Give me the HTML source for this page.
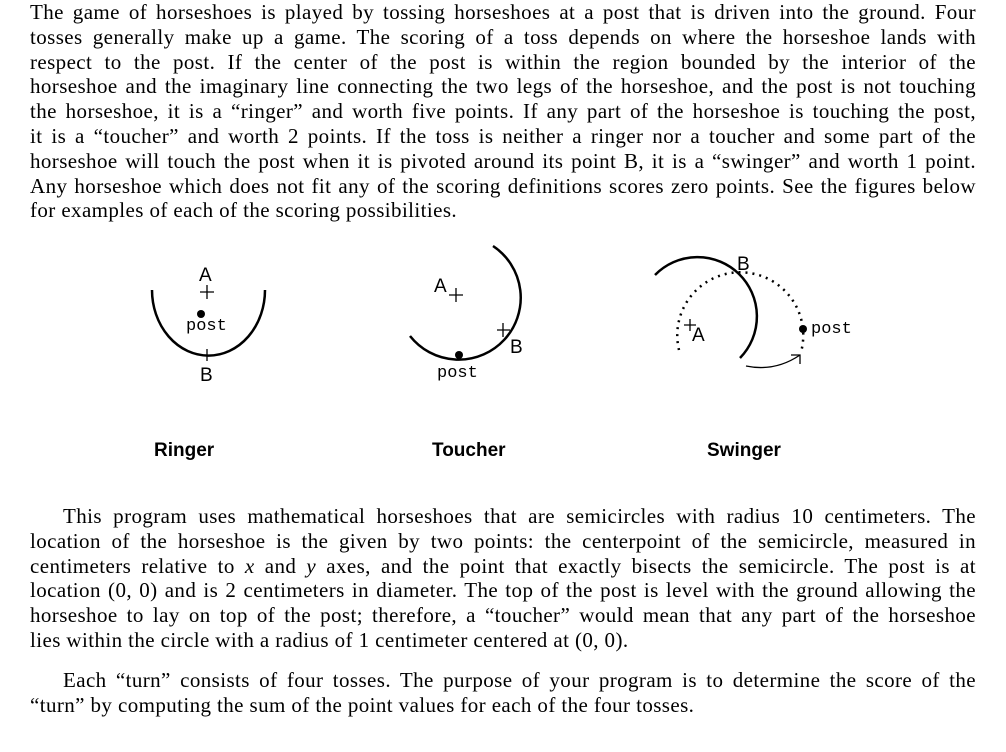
<!DOCTYPE html>
<html><head><meta charset="utf-8"><style>
body{margin:0;width:1006px;height:752px;background:#fff;position:relative;overflow:hidden;font-family:"Liberation Serif",serif;font-size:21px;letter-spacing:0.4px;color:#000}
.p{position:absolute;left:30px;width:946px}
.p div{height:24.8px;line-height:24.8px;text-align:justify;text-align-last:justify;white-space:nowrap}
.p div.l{text-align-last:left}
.p div.i{padding-left:33px}
.cap{position:absolute;font-family:"Liberation Sans",sans-serif;font-weight:bold;font-size:19px;letter-spacing:0}
svg{position:absolute;left:0;top:0;letter-spacing:0}
svg text{font-family:"Liberation Mono",monospace;font-size:17px}
svg text.s{font-family:"Liberation Sans",sans-serif;font-size:19px}
</style></head><body>
<div class="p" style="top:0px">
<div>The game of horseshoes is played by tossing horseshoes at a post that is driven into the ground. Four</div>
<div>tosses generally make up a game. The scoring of a toss depends on where the horseshoe lands with</div>
<div>respect to the post. If the center of the post is within the region bounded by the interior of the</div>
<div>horseshoe and the imaginary line connecting the two legs of the horseshoe, and the post is not touching</div>
<div>the horseshoe, it is a “ringer” and worth five points. If any part of the horseshoe is touching the post,</div>
<div>it is a “toucher” and worth 2 points. If the toss is neither a ringer nor a toucher and some part of the</div>
<div>horseshoe will touch the post when it is pivoted around its point B, it is a “swinger” and worth 1 point.</div>
<div>Any horseshoe which does not fit any of the scoring definitions scores zero points. See the figures below</div>
<div class="l">for examples of each of the scoring possibilities.</div>
</div>
<div class="p" style="top:504px">
<div class="i">This program uses mathematical horseshoes that are semicircles with radius 10 centimeters. The</div>
<div>location of the horseshoe is the given by two points: the centerpoint of the semicircle, measured in</div>
<div>centimeters relative to <i>x</i> and <i>y</i> axes, and the point that exactly bisects the semicircle. The post is at</div>
<div>location (0, 0) and is 2 centimeters in diameter. The top of the post is level with the ground allowing the</div>
<div>horseshoe to lay on top of the post; therefore, a “toucher” would mean that any part of the horseshoe</div>
<div class="l">lies within the circle with a radius of 1 centimeter centered at (0, 0).</div>
</div>
<div class="p" style="top:668px">
<div class="i">Each “turn” consists of four tosses. The purpose of your program is to determine the score of the</div>
<div class="l">“turn” by computing the sum of the point values for each of the four tosses.</div>
</div>
<svg width="1006" height="752" viewBox="0 0 1006 752">
<g fill="none" stroke="#000" stroke-width="2.5">
<path d="M152 290 A56 65 0 0 0 265 290"/>
<path d="M410 336 A62 62 0 1 0 493 246"/>
<path d="M655 275 A58 58 0 1 1 740 358"/>
</g>
<g fill="none" stroke="#000" stroke-width="1.3">
<path d="M200 292h14M207 285v14"/>
<path d="M207 349v12"/>
<path d="M449 295h14M456 288v14"/>
<path d="M497 330h13M503 323v14"/>
<path d="M684 325h12M690 319v12"/>
<path d="M746 366 Q775 372 800 355"/>
<path d="M791 355l9 0l0 9"/>
</g>
<g fill="none" stroke="#000" stroke-width="2.5" stroke-dasharray="2 5">
<path d="M679 350 A63 63 0 1 1 801 352"/>
</g>
<g fill="#000">
<circle cx="201" cy="314" r="4"/>
<circle cx="459" cy="355" r="4"/>
<circle cx="803" cy="329" r="4"/>
</g>
<text class="s" x="199" y="281">A</text>
<text x="186" y="330">post</text>
<text class="s" x="200" y="381">B</text>
<text class="s" x="434" y="292">A</text>
<text class="s" x="510" y="353">B</text>
<text x="437" y="377">post</text>
<text class="s" x="737" y="270">B</text>
<text class="s" x="692" y="341">A</text>
<text x="811" y="333">post</text>
</svg>
<div class="cap" style="left:154px;top:440px">Ringer</div>
<div class="cap" style="left:432px;top:440px">Toucher</div>
<div class="cap" style="left:707px;top:440px">Swinger</div>
</body></html>
